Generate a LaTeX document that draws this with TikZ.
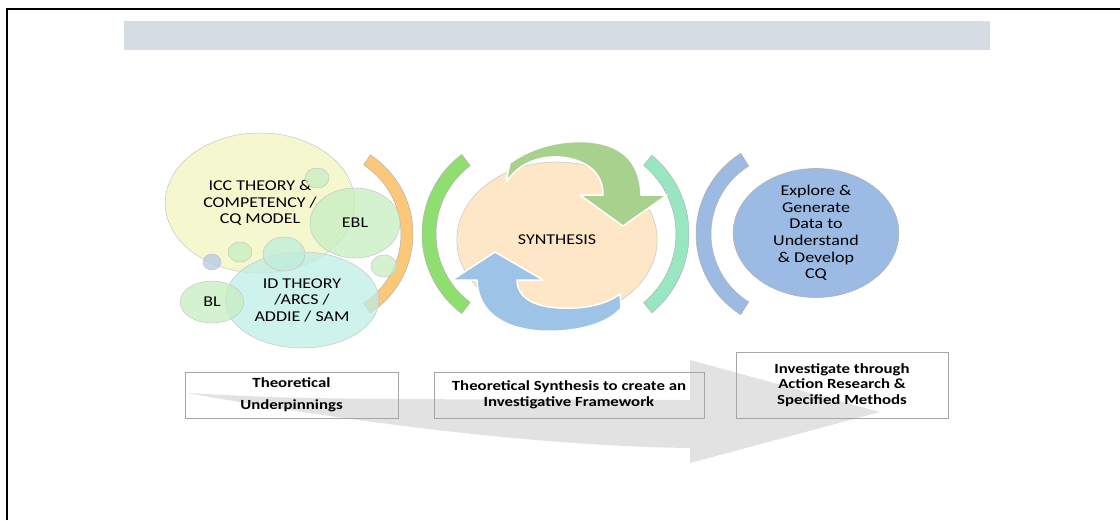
\documentclass[tikz,border=0pt]{standalone}
\usepackage{fontspec}
\setmainfont{Carlito}
\usetikzlibrary{shapes.geometric}
\definecolor{bandgray}{HTML}{D6DCE4}
\definecolor{iccyellow}{HTML}{F1F5BE}
\definecolor{bubgreen}{HTML}{C6EEC0}
\definecolor{idcyan}{HTML}{BDEDE6}
\definecolor{bubblue}{HTML}{B4C8E6}
\definecolor{arcorange}{HTML}{FAC878}
\definecolor{arcgreen}{HTML}{8EDF70}
\definecolor{arcteal}{HTML}{98E6C2}
\definecolor{arcblue}{HTML}{9DBBE2}
\definecolor{synpeach}{HTML}{FDE7C6}
\definecolor{explblue}{HTML}{9BBBE5}
\definecolor{arrgreen}{HTML}{A9D18E}
\definecolor{arrblue}{HTML}{9DC3E6}
\definecolor{flowgray}{HTML}{E2E2E2}
\tikzset{
  wide/.style={transform shape,xscale=1.2},
  bubble/.style={ellipse,wide,draw=gray!45,line width=0.5pt,fill opacity=0.75,text opacity=1,inner sep=0pt,align=center,font=\fontsize{15}{16.5}\selectfont},
  hub/.style={ellipse,wide,line width=0.6pt,inner sep=0pt,align=center,font=\fontsize{15}{16.7}\selectfont},
  blockarc/.style={draw=gray!60,line width=0.5pt},
  cyclearrow/.style={draw=white,line width=1.5pt,line join=round},
  stagebox/.style={draw=gray!70,line width=0.6pt,wide,align=center,font=\bfseries\fontsize{14}{16}\selectfont}
}
\begin{document}
\begin{tikzpicture}[x=1pt,y=-1pt]
\useasboundingbox (0,0) rectangle (1120,520);
\draw[line width=2pt] (7,520) -- (7,9) -- (1120,9);
\fill[bandgray] (124,21) rectangle (990,50);

\fill[flowgray] (187,393) .. controls (300,399) .. (690,400) -- (690,360) -- (880,412) -- (690,463) -- (690,448) .. controls (530,446) and (340,420) .. (187,393) -- cycle;

\filldraw[blockarc,fill=arcorange] (318.5,234) ++(-56.8:94.5) arc(-56.8:56.8:94.5) -- ++(236.8:12) arc(56.8:-56.8:82.5) -- cycle;

\node[bubble,fill=iccyellow,minimum width=158,minimum height=140] (icc) at (260,203) {ICC THEORY \&\\COMPETENCY /\\CQ MODEL};
\node[bubble,fill=bubgreen,minimum width=75,minimum height=70] (ebl) at (355,223) {EBL};
\node[bubble,fill=idcyan,minimum width=128,minimum height=96] (id) at (302,300) {ID THEORY\\/ARCS /\\ADDIE / SAM};
\node[bubble,fill=bubgreen,minimum width=53,minimum height=42] (bl) at (212,302) {BL};
\node[bubble,fill=bubgreen,minimum width=20,minimum height=20] (dotA) at (317,178) {};
\node[bubble,fill=bubgreen,minimum width=20,minimum height=20] (dotB) at (240,252) {};
\node[bubble,fill=idcyan!70!bubgreen,minimum width=35,minimum height=34] (dotC) at (284,254) {};
\node[bubble,fill=bubblue,minimum width=15,minimum height=16] (dotD) at (212,262) {};
\node[bubble,fill=bubgreen,minimum width=21.7,minimum height=22] (dotE) at (384,266) {};

\filldraw[blockarc,fill=arcgreen] (521.5,234) ++(126.9:99.5) arc(126.9:233.1:99.5) -- ++(53.1:14) arc(233.1:126.9:85.5) -- cycle;
\filldraw[blockarc,fill=arcteal] (587,234) ++(-50.5:102) arc(-50.5:50.5:102) -- ++(230.5:13) arc(50.5:-50.5:89) -- cycle;
\filldraw[blockarc,fill=arcblue] (791,234) ++(121.9:95) arc(121.9:238.1:95) -- ++(58.1:15) arc(238.1:121.9:80) -- cycle;

\node[hub,draw=gray!40,fill=synpeach,minimum width=167,minimum height=156] (syn) at (557,240) {SYNTHESIS};
\filldraw[cyclearrow,fill=arrgreen] (510,163) .. controls (535,145) and (565,140) .. (590,142) .. controls (620,145) and (640,160) .. (641,195) -- (667,195) -- (623,226) -- (580,195) -- (603,195) .. controls (603,175) and (590,160) .. (560,157) .. controls (540,156) and (520,162) .. (506,182) -- cycle;
\filldraw[cyclearrow,fill=arrblue] (477,280) .. controls (478,310) and (500,328) .. (540,331) .. controls (580,333) and (610,322) .. (621,308) -- (620,294) .. controls (605,305) and (585,309) .. (560,308) .. controls (535,307) and (517,298) .. (517,280) -- (543,280) -- (495,252) -- (452,280) -- cycle;

\node[hub,draw=gray!60,fill=explblue,inner sep=-10pt,minimum width=138,minimum height=129] (expl) at (816,233) {Explore \&\\Generate\\Data to\\Understand\\\& Develop\\CQ};

\node[stagebox,minimum width=177.5,minimum height=46,font=\bfseries\fontsize{14}{22}\selectfont] (under) at (291.5,395) {Theoretical\\Underpinnings};
\node[stagebox,minimum width=225,minimum height=46] (frame) at (569,395) {Theoretical Synthesis to create an\\Investigative Framework};
\node[stagebox,minimum width=176.7,minimum height=66,font=\bfseries\fontsize{14}{15.5}\selectfont] (action) at (842,385) {Investigate through\\Action Research \&\\Specified Methods};
\end{tikzpicture}
\end{document}
